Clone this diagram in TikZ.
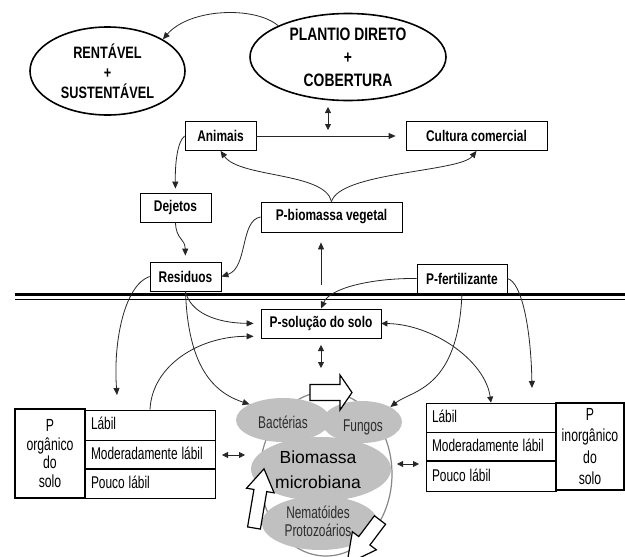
\documentclass[tikz,border=0pt]{standalone}
\usepackage{fontspec}
\usepackage{graphicx}
\setmainfont{Liberation Sans}
\newfontfamily\narrowfont[FakeStretch=0.77]{Liberation Sans}
\newfontfamily\slimfont[FakeStretch=0.7]{Liberation Sans}
\newcommand\squeeze[1]{\scalebox{0.7}[1]{#1}}
\usepackage{xcolor}
\usetikzlibrary{calc,arrows.meta}
\usetikzlibrary{positioning,shapes.geometric}

\definecolor{blobgray}{RGB}{192,192,192}
\definecolor{rimgray}{RGB}{135,135,135}
\definecolor{txtgray}{RGB}{45,45,45}

\begin{document}
\begin{tikzpicture}[x=1pt, y=-1pt,
  every node/.style={inner sep=0pt},
  box/.style={rectangle, draw=black, line width=0.8pt, fill=white,
    font=\narrowfont\bfseries\fontsize{15.5}{17}\selectfont, minimum height=29pt},
  oval/.style={ellipse, draw=black, line width=1.6pt, align=center},
  flow/.style={draw=black!85, line width=0.8pt, -{Triangle[length=7pt,width=6pt]}},
  both/.style={draw=black!85, line width=0.8pt,
    {Triangle[length=6pt,width=6pt]}-{Triangle[length=6pt,width=6pt]}},
  blob/.style={ellipse, fill=blobgray},
  fat/.style={draw=black, line width=1.2pt, fill=white}
]
\useasboundingbox (0,0) rectangle (625,557);

% Ovals on top
\node[oval, minimum width=155pt, minimum height=88pt,
  font=\narrowfont\bfseries\fontsize{16.5}{20}\selectfont] (rent) at (107.5,71)
  {RENTÁVEL\\+\\SUSTENTÁVEL};
\node[oval, minimum width=196pt, minimum height=87pt,
  font=\narrowfont\bfseries\fontsize{18}{23}\selectfont] (plan) at (348,57)
  {PLANTIO DIRETO\\+\\COBERTURA};

% Boxes above the soil
\node[box, minimum width=71pt]  (anim)  at (220.5,136) {Animais};
\node[box, minimum width=141pt] (cult)  at (476.5,136) {Cultura comercial};
\node[box, minimum width=71pt]  (dej)   at (175.5,207.5) {Dejetos};
\node[box, minimum width=71pt]  (resid) at (185.5,276.5) {Residuos};
\node[box, minimum width=141pt, minimum height=30pt] (pbio) at (331.5,217) {P-biomassa vegetal};
\node[box, minimum width=90pt]  (pfert) at (462,278.5) {P-fertilizante};

% Soil line
\draw[line width=2.2pt] (15,294.5) -- (625,294.5);
\draw[line width=1pt] (15,299) -- (625,299);

\node[box, minimum width=120pt] (psol) at (321,323.5) {P-solução do solo};

% Tables
\tikzset{
  rowbox/.style={
    rectangle, draw=black, line width=0.8pt,
    text width=118pt, inner xsep=6pt, align=left,
    text height=13pt, text depth=3.5pt,
    font=\fontsize{17}{19}\selectfont
  },
  pbox/.style={
    rectangle, draw=black, line width=1.6pt, align=center
  }
}
\node[pbox, minimum width=70pt, minimum height=89pt,
  font=\slimfont\fontsize{17.5}{18.5}\selectfont] (porg) at (50,453.5) {P\\orgânico\\do\\solo};
\node[rowbox, minimum height=30pt] (lab1) at (150,425) {\squeeze{Lábil}};
\node[rowbox, minimum height=28pt, below=0pt of lab1] (mod1) {\squeeze{Moderadamente lábil}};
\node[rowbox, minimum height=29pt, below=0pt of mod1] (pou1) {\squeeze{Pouco lábil}};

\node[rowbox, minimum height=29pt] (lab2) at (491,417.5) {\squeeze{Lábil}};
\node[rowbox, minimum height=28pt, below=0pt of lab2] (mod2) {\squeeze{Moderadamente lábil}};
\node[rowbox, minimum height=30pt, below=0pt of mod2] (pou2) {\squeeze{Pouco lábil}};
\node[pbox, minimum width=68pt, minimum height=87pt,
  font=\slimfont\fontsize{17.5}{21.5}\selectfont] (pino) at (590,446.5) {P\\inorgânico\\do\\solo};

% Microbial biomass
\node[draw=rimgray, line width=1.2pt, ellipse, minimum width=132pt, minimum height=164pt] (rim) at (326,474) {};
\node[blob, minimum width=94pt, minimum height=44pt]  (bact) at (283,420) {};
\node[blob, minimum width=80pt, minimum height=42pt]  (fung) at (362,422) {};
\node[blob, minimum width=140pt, minimum height=64pt] (biom) at (321,469) {};
\node[blob, minimum width=116pt, minimum height=54pt] (nema) at (320,523) {};

\node[text=txtgray, font=\slimfont\fontsize{17}{18}\selectfont] (tbact) at (283,422) {Bactérias};
\node[text=txtgray, font=\slimfont\fontsize{17}{18}\selectfont] (tfung) at (363,427) {Fungos};
\node[align=center, font=\fontsize{17.5}{25}\selectfont] (tbiom) at (318,470) {Biomassa\\microbiana};
\node[text=txtgray, align=center, font=\slimfont\fontsize{17}{18}\selectfont] (tnema) at (318,521) {Nematóides\\Protozoários};

% Block arrows
\draw[fat] (310,384.5) -- (340,384.5) -- (340,375) -- (352,392.5) -- (340,410)
  -- (340,400.5) -- (310,400.5) -- cycle;
\begin{scope}[shift={(254,528)}, rotate=80.4]
  \draw[fat] (0,-6.5) -- (38,-6.5) -- (38,-14) -- (60,0) -- (38,14) -- (38,6.5) -- (0,6.5) -- cycle;
\end{scope}
\begin{scope}[shift={(380,520)}, rotate=233]
  \draw[fat] (0,-7) -- (26,-7) -- (26,-15) -- (55,0) -- (26,15) -- (26,7) -- (0,7) -- cycle;
\end{scope}

% Free ends
\coordinate (pl1) at (328,107);
\coordinate (up0) at (321,285);
\coordinate (sb1) at (321,345);
\coordinate (lb1) at (222,455);
\coordinate (rb1) at (397,464);
\coordinate (orgtip) at (117,395);
\coordinate (inotip) at (532,388);

% ---- Edges ----
\draw[flow] (plan.north west) .. controls (255,6) and (190,8) .. (rent.north east);
\draw[both] (pl1) -- ++(0,23);
\draw[flow, shorten >=10pt] (anim.east) -- (cult.west);
\draw[flow, shorten >=4pt] (anim.west) .. controls (177,142) and (175,165) .. (dej.north);
\draw[flow, shorten >=6pt] (dej.south) .. controls (176,240) and (185,238) .. (resid.north);
\draw[flow] (pbio.west) .. controls (240,220) and (248,268) .. (resid.east);
\draw[flow] (pbio.north) .. controls (325,172) and (240,178) .. (anim.south);
\draw[flow] (pbio.north) .. controls (340,172) and (460,172) .. (cult.south);
\draw[flow, shorten >=10pt] (up0) -- (up0 |- pbio.south);

\draw[flow] (pfert.west) .. controls (372,278) and (330,288) .. (psol.north);
\draw[flow, shorten >=7pt] (resid.south) .. controls (190,312) and (215,323) .. (psol.west);
\draw[flow, shorten >=7pt] (lab1.north) .. controls (152,365) and (200,336) .. ([yshift=2pt]psol.south west);
\draw[flow] (resid.west) .. controls (125,285) and (113,340) .. (orgtip);
\draw[flow] (resid.south) .. controls (188,365) and (212,392) .. (bact.north west);
\draw[both] (sb1) -- ++(0,23);
\draw[both] (psol.east) .. controls (432,324) and (485,360) .. (lab2.north);
\draw[flow] (pfert.south) .. controls (458,390) and (412,390) .. (fung.north east);
\draw[flow] (pfert.east) .. controls (522,282) and (531,330) .. (inotip);
\draw[both] (lb1) -- ++(23,0);
\draw[both] (rb1) -- ++(22,0);

\end{tikzpicture}
\end{document}
